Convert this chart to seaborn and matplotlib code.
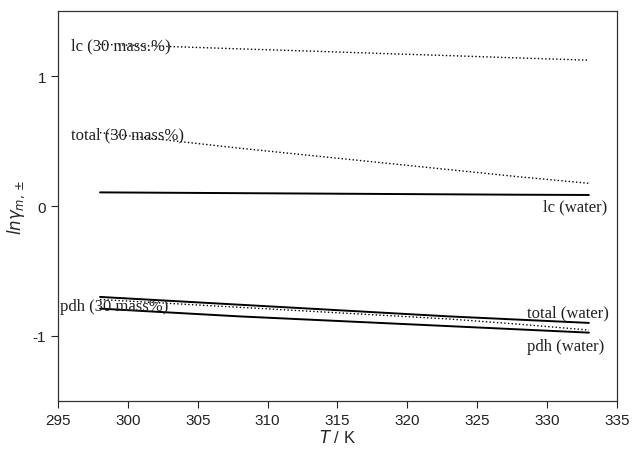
import numpy as np
import pandas as pd
import matplotlib
matplotlib.use("Agg")
import matplotlib.pyplot as plt
import seaborn as sns

# temperatures (K)
T = [298, 303, 308, 313, 318, 323, 328, 333]

# ln gamma values
lc_water = [0.105, 0.102, 0.099, 0.096, 0.093, 0.090, 0.087, 0.085]
total_water = [-0.70, -0.73, -0.76, -0.79, -0.82, -0.85, -0.875, -0.90]
pdh_water = [-0.79, -0.82, -0.85, -0.875, -0.90, -0.925, -0.95, -0.975]
lc_30 = [1.245, 1.228, 1.210, 1.193, 1.175, 1.158, 1.140, 1.123]
total_30 = [0.565, 0.505, 0.445, 0.39, 0.335, 0.28, 0.225, 0.175]
pdh_30 = [-0.72, -0.75, -0.78, -0.81, -0.84, -0.87, -0.91, -0.955]

series = {
    "lc (water)": (lc_water, "-"),
    "total (water)": (total_water, "-"),
    "pdh (water)": (pdh_water, "-"),
    "lc (30 mass%)": (lc_30, ":"),
    "total (30 mass%)": (total_30, ":"),
    "pdh (30 mass%)": (pdh_30, ":"),
}

sns.set_style("ticks")
plt.rcParams["font.family"] = ["Liberation Sans", "DejaVu Sans"]
plt.rcParams["axes.unicode_minus"] = False

fig = plt.figure(figsize=(6.32, 4.52), dpi=100)
ax = fig.add_axes([0.092, 0.111, 0.884, 0.862])

for name, (vals, ls) in series.items():
    df = pd.DataFrame({"T": T, "y": vals})
    sns.lineplot(data=df, x="T", y="y", ax=ax, color="black",
                 linestyle=ls, linewidth=1.4 if ls == "-" else 1.0)

serif = dict(family=["Liberation Serif", "DejaVu Serif"], fontsize=12, color="#222222")
ax.text(295.95, 1.24, "lc (30 mass.%)", ha="left", va="center", **serif)
ax.text(295.95, 0.55, "total (30 mass%)", ha="left", va="center", **serif)
ax.text(334.3, -0.0, "lc (water)", ha="right", va="center", **serif)
ax.text(334.4, -0.82, "total (water)", ha="right", va="center", **serif)
ax.text(334.1, -1.08, "pdh (water)", ha="right", va="center", **serif)
ax.text(295.1, -0.77, "pdh (30 mass%)", ha="left", va="center", **serif)

ax.set_xlim(295, 335)
ax.set_ylim(-1.5, 1.5)
ax.set_xticks(np.arange(295, 336, 5))
ax.set_yticks([-1, 0, 1])
ax.tick_params(direction="out", length=5, width=0.8, labelsize=11, colors="#222222")
for s in ax.spines.values():
    s.set_visible(True)
    s.set_linewidth(0.9)
    s.set_color("#333333")

ax.set_xlabel(r"$T$ / K", fontsize=12, labelpad=1)
ax.set_ylabel(r"$ln\gamma_{m,\pm}$", fontsize=12, labelpad=4)

fig.savefig("out.png", dpi=100)
